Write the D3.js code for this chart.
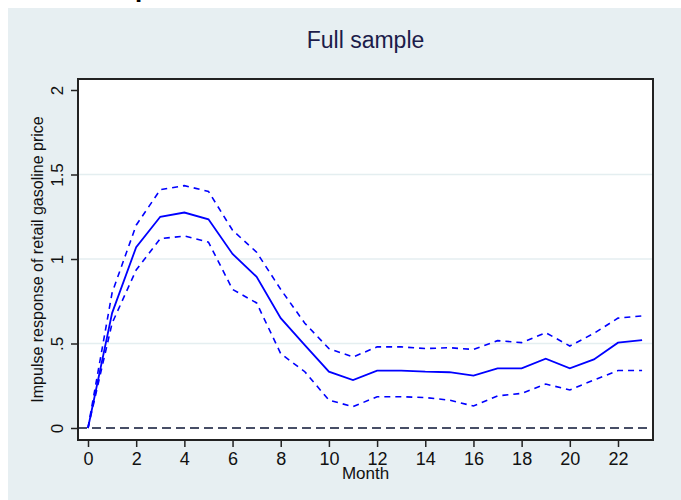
<!DOCTYPE html>
<html>
<head>
<meta charset="utf-8">
<script src="https://cdn.jsdelivr.net/npm/d3@7"></script>
<style>
  body { margin: 0; background: #fff; }
  svg { display: block; font-family: "Liberation Sans", Arial, sans-serif; }
</style>
</head>
<body>
<svg id="chart" width="681" height="500"></svg>
<script>
// impulse response, full sample
var months = [0, 1, 2, 3, 4, 5, 6, 7, 8, 9, 10, 11, 12, 13, 14, 15, 16, 17, 18, 19, 20, 21, 22, 23];
var irf = [0, 0.68, 1.07, 1.25, 1.275, 1.235, 1.03, 0.895, 0.65, 0.49, 0.333, 0.284, 0.34, 0.34,
           0.333, 0.33, 0.31, 0.353, 0.353, 0.41, 0.353, 0.406, 0.505, 0.52];
var upper = [0, 0.80, 1.20, 1.41, 1.434, 1.40, 1.17, 1.04, 0.82, 0.62, 0.47, 0.42, 0.48, 0.48,
             0.47, 0.475, 0.465, 0.517, 0.505, 0.564, 0.485, 0.56, 0.65, 0.663];
var lower = [0, 0.62, 0.935, 1.12, 1.136, 1.10, 0.82, 0.74, 0.44, 0.333, 0.165, 0.126, 0.185, 0.185,
             0.18, 0.165, 0.13, 0.19, 0.205, 0.26, 0.225, 0.284, 0.34, 0.34];
var xTicks = [0, 2, 4, 6, 8, 10, 12, 14, 16, 18, 20, 22];
var yTicks = [0, 0.5, 1, 1.5, 2];
var yLabels = ["0", ".5", "1", "1.5", "2"];

var svg = d3.select('#chart');

// plot frame box
var frame = { left: 78, top: 79, right: 653, bottom: 440 };

var x = d3.scaleLinear().domain([0, 22]).range([88, 618]);
var y = d3.scaleLinear().domain([0, 2]).range([428, 90]);

// outer panel (white strip at top/left as in the cropped picture)
svg.append('rect')
  .attr('x', 8).attr('y', 8)
  .attr('width', 681 - 8).attr('height', 500 - 8)
  .attr('fill', '#e7eff2');

// bit of a heading cut off at the very top
svg.append('text')
  .attr('x', 135).attr('y', -3)
  .attr('font-size', 26).attr('font-weight', 'bold')
  .attr('fill', '#000')
  .text('p');

svg.append('rect')
  .attr('x', frame.left).attr('y', frame.top)
  .attr('width', frame.right - frame.left).attr('height', frame.bottom - frame.top)
  .attr('fill', '#fff');

// gridlines at the inner ticks
svg.append('g').selectAll('line')
  .data(yTicks.filter(function(d) { return d > 0 && d < 2; }))
  .join('line')
  .attr('x1', frame.left).attr('x2', frame.right)
  .attr('y1', function(d) { return y(d); })
  .attr('y2', function(d) { return y(d); })
  .attr('stroke', '#e4eef0')
  .attr('stroke-width', 1.5);

// zero line
svg.append('line')
  .attr('x1', frame.left).attr('x2', frame.right)
  .attr('y1', y(0)).attr('y2', y(0))
  .attr('stroke', '#474e66')
  .attr('stroke-width', 2.2)
  .attr('stroke-dasharray', '9,5');

var line = d3.line()
  .x(function(d, i) { return x(months[i]); })
  .y(function(d) { return y(d); });

[upper, lower].forEach(function(s) {
  svg.append('path')
    .datum(s)
    .attr('d', line)
    .attr('fill', 'none')
    .attr('stroke', '#0000ff')
    .attr('stroke-width', 1.6)
    .attr('stroke-dasharray', '6,5');
});

svg.append('path')
  .datum(irf)
  .attr('d', line)
  .attr('fill', 'none')
  .attr('stroke', '#0000ff')
  .attr('stroke-width', 1.8);

svg.append('rect')
  .attr('x', frame.left).attr('y', frame.top)
  .attr('width', frame.right - frame.left).attr('height', frame.bottom - frame.top)
  .attr('fill', 'none')
  .attr('stroke', '#222')
  .attr('stroke-width', 2);

// x axis
var gx = svg.append('g')
  .attr('transform', 'translate(0,' + frame.bottom + ')')
  .call(d3.axisBottom(x).tickValues(xTicks).tickSize(7).tickSizeOuter(0));
gx.select('.domain').remove();
gx.selectAll('.tick line').attr('stroke', '#222').attr('stroke-width', 1.5);
gx.selectAll('.tick text')
  .attr('y', 12)
  .attr('font-size', 18)
  .attr('font-family', '"Liberation Sans", Arial, sans-serif')
  .attr('fill', '#111');

// y axis
var gy = svg.append('g')
  .attr('transform', 'translate(' + frame.left + ',0)')
  .call(d3.axisLeft(y).tickValues(yTicks).tickSize(7).tickSizeOuter(0)
    .tickFormat(function(d, i) { return yLabels[i]; }));
gy.select('.domain').remove();
gy.selectAll('.tick line').attr('stroke', '#222').attr('stroke-width', 1.5);
gy.selectAll('.tick text')
  .attr('x', null).attr('dy', null)
  .attr('transform', 'translate(-15,0) rotate(-90)')
  .attr('text-anchor', 'middle')
  .attr('font-size', 17)
  .attr('font-family', '"Liberation Sans", Arial, sans-serif')
  .attr('fill', '#111');

// titles
svg.append('text')
  .attr('x', (frame.left + frame.right) / 2).attr('y', 48)
  .attr('text-anchor', 'middle')
  .attr('font-size', 23)
  .attr('fill', '#1c1c4a')
  .text('Full sample');

svg.append('text')
  .attr('x', (frame.left + frame.right) / 2).attr('y', 479)
  .attr('text-anchor', 'middle')
  .attr('font-size', 17)
  .attr('fill', '#111')
  .text('Month');

svg.append('text')
  .attr('transform', 'translate(43,' + (frame.top + frame.bottom) / 2 + ') rotate(-90)')
  .attr('text-anchor', 'middle')
  .attr('font-size', 16)
  .attr('fill', '#111')
  .text('Impulse response of retail gasoline price');
</script>
</body>
</html>
